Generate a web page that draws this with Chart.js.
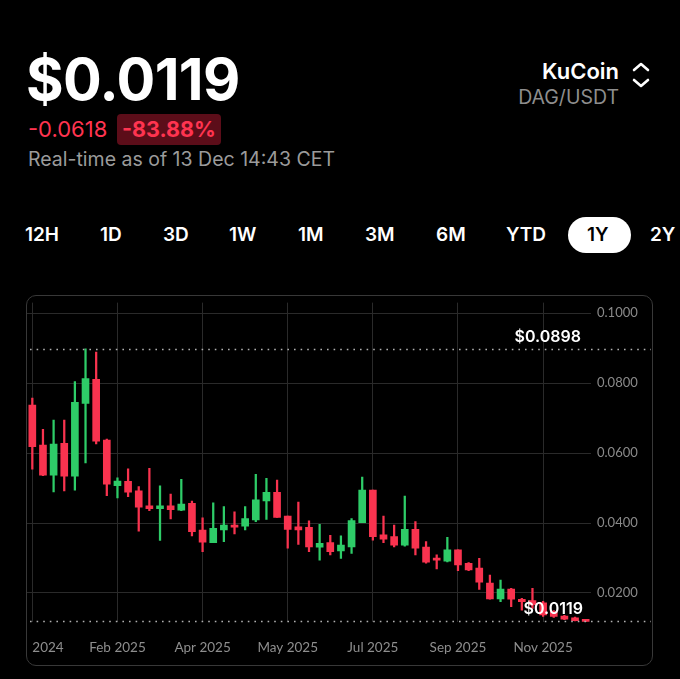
<!DOCTYPE html>
<html>
<head>
<meta charset="utf-8">
<script src="https://cdn.jsdelivr.net/npm/chart.js@4.4.1/dist/chart.umd.min.js"></script>
<style>
body{margin:0;background:#000;width:680px;height:679px;overflow:hidden;font-family:Inter,"Noto Sans",sans-serif;color:#fff;position:relative}
.abs{position:absolute;white-space:nowrap}
#price{left:26px;top:51px;font-size:57.5px;font-weight:700;letter-spacing:-0.6px;line-height:57px}
#chg{left:28px;top:116px;font-size:22px;color:#ff3450;line-height:26px}
#pct{left:117px;top:114px;height:31px;padding:0 5px;background:#5c0d19;border-radius:4px;font-size:21.5px;font-weight:700;color:#ff3450;line-height:31px}
#asof{left:28px;top:147px;font-size:19.5px;color:#9b9b9b;line-height:25px}
#ex{right:61px;top:58px;font-size:22px;font-weight:600;line-height:26px}
#pair{right:61px;top:85px;font-size:19.5px;color:#8e8e8e;line-height:25px}
#chev{left:630px;top:60px}
.tf{top:222px;font-size:19px;font-weight:600;line-height:26px}
#pill{left:568px;top:217px;width:63px;height:36px;background:#fff;border-radius:18px}
#box{left:26px;top:295px;width:625px;height:369px;border:1px solid #383838;border-radius:10px}
#chart{position:absolute;left:27px;top:296px}
</style>
</head>
<body>
<div class="abs" id="price">$0.0119</div>
<div class="abs" id="chg">-0.0618</div>
<div class="abs" id="pct">-83.88%</div>
<div class="abs" id="asof">Real-time as of 13 Dec 14:43 CET</div>
<div class="abs" id="ex">KuCoin</div>
<div class="abs" id="pair">DAG/USDT</div>
<svg class="abs" id="chev" width="22" height="30" viewBox="0 0 22 30"><path d="M4 10 L11 4 L18 10 M4 20 L11 26 L18 20" fill="none" stroke="#fff" stroke-width="2.6" stroke-linecap="round" stroke-linejoin="round"/></svg>
<div class="abs" id="pill"></div>
<div class="abs tf" style="left:25px">12H</div>
<div class="abs tf" style="left:100px">1D</div>
<div class="abs tf" style="left:163px">3D</div>
<div class="abs tf" style="left:229px">1W</div>
<div class="abs tf" style="left:298px">1M</div>
<div class="abs tf" style="left:365px">3M</div>
<div class="abs tf" style="left:436px">6M</div>
<div class="abs tf" style="left:506px">YTD</div>
<div class="abs tf" style="left:587px;color:#000">1Y</div>
<div class="abs tf" style="left:650px">2Y</div>
<div class="abs" id="box"></div>
<canvas id="chart" width="626" height="370"></canvas>
<script>
// weekly candles, DAG/USDT on KuCoin
const weeks = ["2024-12-09","2024-12-16","2024-12-23","2024-12-30","2025-01-06","2025-01-13","2025-01-20","2025-01-27",
"2025-02-03","2025-02-10","2025-02-17","2025-02-24","2025-03-03","2025-03-10","2025-03-17","2025-03-24",
"2025-03-31","2025-04-07","2025-04-14","2025-04-21","2025-04-28","2025-05-05","2025-05-12","2025-05-19",
"2025-05-26","2025-06-02","2025-06-09","2025-06-16","2025-06-23","2025-06-30","2025-07-07","2025-07-14",
"2025-07-21","2025-07-28","2025-08-04","2025-08-11","2025-08-18","2025-08-25","2025-09-01","2025-09-08",
"2025-09-15","2025-09-22","2025-09-29","2025-10-06","2025-10-13","2025-10-20","2025-10-27","2025-11-03",
"2025-11-10","2025-11-17","2025-11-24","2025-12-01","2025-12-08"]

const opens = [0.0737,0.0623,0.0537,0.0628,0.0534,0.0742,0.0811,0.0637,0.0507,0.0519,0.0492,0.0449,0.0441,0.0449,
0.0437,0.0456,0.0380,0.0344,0.0380,0.0394,0.0391,0.0409,0.0463,0.0488,0.0420,0.0389,0.0388,0.0331,0.0344,0.0320,
0.0332,0.0401,0.0494,0.0366,0.0361,0.0337,0.0382,0.0331,0.0299,0.0291,0.0323,0.0285,0.0271,0.0228,0.0183,0.0211,
0.0182,0.0178,0.0172,0.0147,0.0134,0.0129,0.0121]
const highs = [0.0757,0.0668,0.0694,0.0694,0.0804,0.0898,0.0889,0.0640,0.0529,0.0555,0.0504,0.0556,0.0506,0.0483,
0.0525,0.0463,0.0415,0.0458,0.0447,0.0432,0.0447,0.0539,0.0528,0.0523,0.0420,0.0460,0.0406,0.0396,0.0365,0.0363,
0.0413,0.0531,0.0494,0.0420,0.0394,0.0477,0.0404,0.0347,0.0309,0.0359,0.0323,0.0287,0.0299,0.0251,0.0237,0.0213,
0.0185,0.0213,0.0176,0.0150,0.0136,0.0131,0.0122]
const lows = [0.0554,0.0535,0.0489,0.0492,0.0494,0.0572,0.0626,0.0478,0.0472,0.0475,0.0377,0.0435,0.0350,0.0412,
0.0435,0.0363,0.0318,0.0344,0.0347,0.0369,0.0380,0.0404,0.0410,0.0416,0.0328,0.0339,0.0318,0.0294,0.0309,0.0299,
0.0313,0.0401,0.0351,0.0344,0.0332,0.0334,0.0309,0.0285,0.0269,0.0289,0.0264,0.0264,0.0210,0.0182,0.0175,0.0161,
0.0151,0.0156,0.0133,0.0130,0.0124,0.0120,0.0117]
const closes = [0.0618,0.0537,0.0626,0.0534,0.0745,0.0813,0.0634,0.0511,0.0520,0.0488,0.0445,0.0441,0.0449,0.0438,
0.0454,0.0375,0.0345,0.0385,0.0394,0.0388,0.0413,0.0466,0.0488,0.0416,0.0382,0.0380,0.0332,0.0342,0.0318,0.0337,
0.0407,0.0494,0.0361,0.0354,0.0337,0.0382,0.0328,0.0288,0.0294,0.0323,0.0280,0.0266,0.0231,0.0183,0.0211,0.0182,
0.0175,0.0166,0.0137,0.0133,0.0125,0.0121,0.0119]

const tickIndex = [0,8,16,24,32,40,48]
const tickText = ["2024","Feb 2025","Apr 2025","May 2025","Jul 2025","Sep 2025","Nov 2025"]
const yTicks = [0.02,0.04,0.06,0.08,0.10]
const periodHigh = 0.0898
const lastPrice = 0.0119

const up = "#2ecc68"
const down = "#f9334f"
const colors = opens.map((o,i) => closes[i] >= o ? up : down)
const gridColor = "#2a2a2a"

// draws the x labels, the dotted high / last lines and their price tags
const overlay = {
id: "overlay",
afterDraw(chart){
const c = chart.ctx
const x = chart.scales.x
const y = chart.scales.y
const area = chart.chartArea
c.save()
c.font = "13.5px Lato"
c.fillStyle = "#8e8e8e"
c.textBaseline = "middle"
tickIndex.forEach((idx, k) => {
c.textAlign = idx == 0 ? "left" : "center"
c.fillText(tickText[k], x.getPixelForValue(idx), area.bottom + 26)
})
c.strokeStyle = "#b0b0b0"
c.lineWidth = 1.6
c.setLineDash([1.6, 5])
;[periodHigh, lastPrice].forEach(v => {
const py = Math.round(y.getPixelForValue(v)) + 0.5
c.beginPath()
c.moveTo(3, py)
c.lineTo(chart.width - 2, py)
c.stroke()
})
c.setLineDash([])
c.font = "600 16px Inter"
c.fillStyle = "#fff"
c.textAlign = "right"
c.textBaseline = "alphabetic"
c.fillText("$" + periodHigh.toFixed(4), area.right - 10, y.getPixelForValue(periodHigh) - 7)
c.fillText("$" + lastPrice.toFixed(4), area.right - 8, y.getPixelForValue(lastPrice) - 7)
c.restore()
}
}

const ctx = document.getElementById("chart").getContext("2d")

new Chart(ctx, {
type: "bar",
data: {
labels: weeks,
datasets: [{
label: "wick",
data: lows.map((l,i) => [l, highs[i]]),
backgroundColor: colors,
barThickness: 1.6,
grouped: false,
order: 2
},{
label: "body",
data: opens.map((o,i) => [o, closes[i]]),
backgroundColor: colors,
barThickness: 7,
minBarLength: 2,
grouped: false,
order: 1
}]
},
options: {
responsive: false,
animation: false,
layout: { padding: { top: 2 } },
plugins: {
legend: { display: false },
tooltip: { enabled: false }
},
scales: {
x: {
offset: true,
grid: {
offset: false,
drawTicks: false,
color: c => tickIndex.includes(c.index) ? gridColor : "transparent"
},
border: { display: false },
ticks: { display: false },
afterFit: s => { s.height = 44 }
},
y: {
position: "right",
min: 0.0117,
max: 0.1030,
afterBuildTicks: s => { s.ticks = yTicks.map(v => ({ value: v })) },
grid: { color: gridColor, drawTicks: false },
border: { display: false },
ticks: {
color: "#8a8a8a",
padding: 6,
font: { family: "Lato", size: 13, lineHeight: 0.1 },
callback: v => v.toFixed(4)
},
afterFit: s => { s.width = 62 }
}
}
},
plugins: [overlay]
})
</script>
</body>
</html>
